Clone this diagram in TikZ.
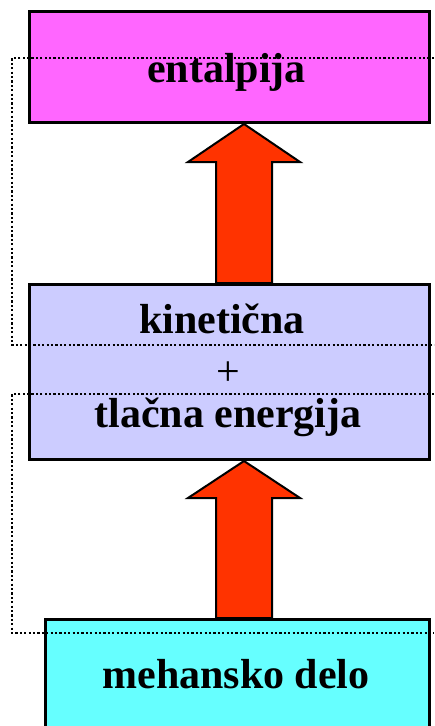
\documentclass[tikz,border=0pt]{standalone}
\usepackage{fontspec}
\setmainfont{Liberation Serif}
\begin{document}
\begin{tikzpicture}[x=1pt,y=-1pt,
  box/.style={draw=black,line width=3pt,inner sep=0pt,anchor=north west},
  lbl/.style={font=\fontsize{42}{48}\selectfont\bfseries,anchor=base,inner sep=0pt},
  plus/.style={font=\fontsize{42}{48}\selectfont,anchor=center,inner sep=0pt},
  bigarrow/.style={draw=black,line width=2pt,fill=arrowred,line join=miter},
  dotline/.style={line width=2.4pt,dash pattern=on 2.2pt off 2.2pt}]
\definecolor{topmag}{HTML}{FF66FF}
\definecolor{midlav}{HTML}{CCCCFF}
\definecolor{botcyan}{HTML}{66FFFF}
\definecolor{arrowred}{HTML}{FF3300}
\useasboundingbox (0,0) rectangle (434,726);
\clip (0,0) rectangle (434,726);
% boxes
\node[box,fill=topmag,minimum width=400pt,minimum height=111pt] (top) at (28,10) {};
\node[box,fill=midlav,minimum width=400pt,minimum height=175pt] (mid) at (28,283) {};
\node[box,fill=botcyan,minimum width=384pt,minimum height=120pt] (bot) at (44,618) {};
% arrows
\draw[bigarrow] (mid.north -| 216,0) -- (216,162) -- (188,162) -- (top.south -| 244,0) -- (300,162) -- (272,162) -- (mid.north -| 272,0) -- cycle;
\draw[bigarrow] (bot.north -| 216,0) -- (216,498) -- (188,498) -- (mid.south -| 244,0) -- (300,498) -- (272,498) -- (bot.north -| 272,0) -- cycle;
% dotted frames
\draw[dotline] (434,58) -- (12,58) -- (12,345) -- (434,345);
\draw[dotline] (434,394) -- (12,394) -- (12,633) -- (434,633);
% texts
\node[lbl] (t1) at (226.5,82) {entalpija};
\node[lbl] (t2) at (222,333) {kinetična};
\node[plus] (t3) at (228,374) {+};
\node[lbl] (t4) at (228,427) {tlačna energija};
\node[lbl] (t5) at (236,688) {mehansko delo};
\end{tikzpicture}
\end{document}
